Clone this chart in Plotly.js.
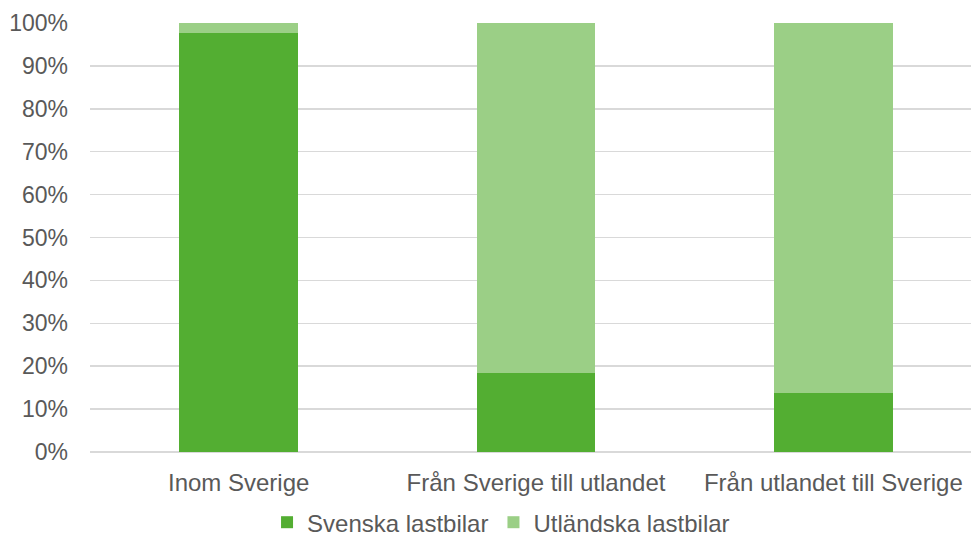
<!DOCTYPE html>
<html>
<head>
<meta charset="utf-8">
<script src="https://cdn.plot.ly/plotly-3.0.1.min.js"></script>
<style>html,body{margin:0;padding:0;background:#fff;}#chart{width:971px;height:541px;}</style>
</head>
<body>
<div id="chart"></div>
<script>
const categories = ["Inom Sverige", "Från Sverige till utlandet", "Från utlandet till Sverige"];
const svenska = [0.977, 0.185, 0.137];
const utlandska = [0.023, 0.815, 0.863];
const seriesNames = ["Svenska lastbilar", "Utländska lastbilar"];
const yTicks = [0, 0.1, 0.2, 0.3, 0.4, 0.5, 0.6, 0.7, 0.8, 0.9, 1.0];

const family = "Liberation Sans, Arial, sans-serif";
const tickFont = {family: family, size: 23, color: "#595959"};
const catFont = {family: family, size: 24, color: "#595959"};

const traces = [
  {type: "bar", name: seriesNames[0], x: categories, y: svenska, marker: {color: "#53AE32"}, hoverinfo: "none"},
  {type: "bar", name: seriesNames[1], x: categories, y: utlandska, marker: {color: "#9BCF86"}, hoverinfo: "none"}
];

const layout = {
  width: 971, height: 541,
  margin: {l: 90, r: 0, t: 23, b: 89, pad: 0},
  barmode: "stack",
  bargap: 0.6,
  paper_bgcolor: "#fff", plot_bgcolor: "#fff",
  font: catFont,
  showlegend: true,
  legend: {orientation: "h", xref: "container", yref: "container", x: 0.516, xanchor: "center", y: 0.034, yanchor: "middle", font: catFont, traceorder: "normal", itemwidth: 30, tracegroupgap: 0},
  xaxis: {range: [-0.5, 2.463], showgrid: false, zeroline: false, showline: false, ticks: "outside", ticklen: 0, ticklabelstandoff: 9, tickfont: catFont},
  yaxis: {range: [0, 1], tickvals: yTicks, tickformat: ".0%", showgrid: true, gridcolor: "#d9d9d9", gridwidth: 1.5, zeroline: true, zerolinecolor: "#d9d9d9", zerolinewidth: 1.5, showline: false, ticklabelstandoff: 21, tickfont: tickFont}
};

Plotly.newPlot("chart", traces, layout, {displayModeBar: false, staticPlot: true});
</script>
</body>
</html>
